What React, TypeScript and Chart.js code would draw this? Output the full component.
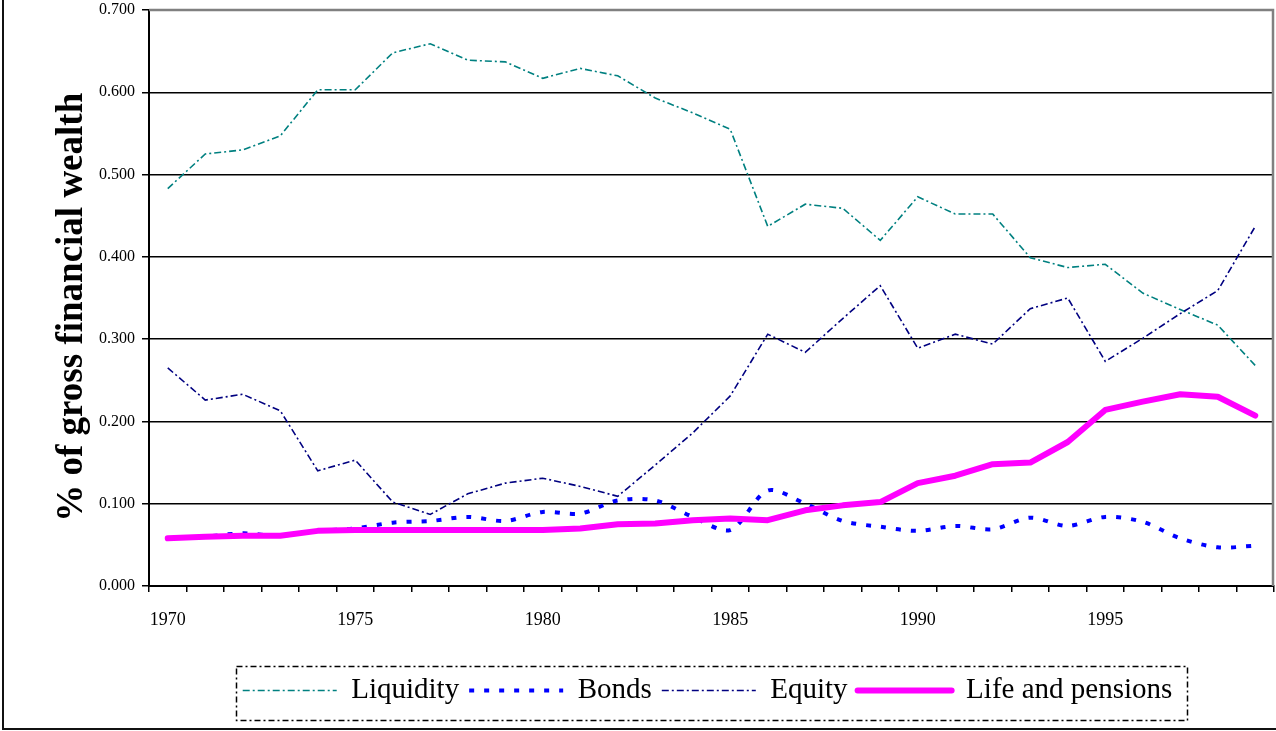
import React, { useEffect, useRef } from 'react';
import { Chart, registerables } from 'chart.js';

Chart.register(...registerables);

const years = ['1970','1971','1972','1973','1974','1975','1976','1977','1978','1979','1980','1981','1982','1983','1984','1985','1986','1987','1988','1989','1990','1991','1992','1993','1994','1995','1996','1997','1998','1999'];

const liquidity = [0.483,0.525,0.530,0.547,0.603,0.603,0.648,0.659,0.639,0.637,0.617,0.629,0.620,0.593,0.575,0.555,0.437,0.464,0.459,0.420,0.473,0.452,0.452,0.399,0.387,0.391,0.356,0.336,0.317,0.268];
const bonds = [0.058,0.060,0.064,0.061,0.067,0.070,0.077,0.079,0.084,0.079,0.090,0.088,0.104,0.104,0.084,0.068,0.116,0.100,0.079,0.072,0.067,0.073,0.069,0.083,0.073,0.084,0.078,0.058,0.047,0.049];
const equity = [0.265,0.226,0.233,0.213,0.140,0.153,0.102,0.087,0.112,0.125,0.131,0.121,0.109,0.147,0.186,0.231,0.306,0.284,0.325,0.365,0.289,0.306,0.294,0.337,0.350,0.273,0.301,0.331,0.359,0.437];
const lifePensions = [0.058,0.060,0.061,0.061,0.067,0.068,0.068,0.068,0.068,0.068,0.068,0.070,0.075,0.076,0.080,0.082,0.080,0.092,0.098,0.102,0.125,0.134,0.148,0.150,0.175,0.214,0.224,0.233,0.230,0.207];

const seriesNames = ['Liquidity', 'Bonds', 'Equity', 'Life and pensions'];
const yTitle = '% of gross financial wealth';

const SERIF = "'Liberation Serif', 'Times New Roman', serif";

export default function App() {
  const ref = useRef<HTMLCanvasElement>(null);

  useEffect(() => {
    document.body.style.margin = '0';
    const canvas = ref.current!;

    const framePlugin = {
      id: 'frame',
      afterLayout(chart: any) {
        const lg = chart.legend;
        if (lg) { lg.left -= 4; lg.right -= 4; }
      },
      afterDraw(chart: any) {
        const ctx = chart.ctx;
        const a = chart.chartArea;
        ctx.save();
        ctx.strokeStyle = '#808080';
        ctx.lineWidth = 2.5;
        ctx.beginPath();
        ctx.moveTo(a.left, a.top);
        ctx.lineTo(a.right - 1, a.top);
        ctx.lineTo(a.right - 1, a.bottom);
        ctx.stroke();
        ctx.strokeStyle = '#111';
        ctx.lineWidth = 2;
        ctx.beginPath();
        ctx.moveTo(3, 0);
        ctx.lineTo(3, 729);
        ctx.lineTo(1276, 729);
        ctx.stroke();
        const hb = chart.legend && chart.legend.legendHitBoxes;
        if (hb && hb.length) {
          const left = hb[0].left - 7;
          const last = hb[hb.length - 1];
          const right = last.left + last.width + 14;
          const cy = hb[0].top + hb[0].height / 2;
          ctx.strokeStyle = '#000';
          ctx.lineWidth = 1.5;
          ctx.setLineDash([6, 3, 2, 3]);
          ctx.strokeRect(Math.round(left) + 0.5, Math.round(cy - 25) + 0.5, Math.round(right - left), 54);
        }
        ctx.restore();
      },
    };

    const chart = new Chart(canvas, {
      type: 'line',
      data: {
        labels: years,
        datasets: [
          {
            label: seriesNames[0],
            data: liquidity,
            borderColor: '#008080',
            backgroundColor: '#008080',
            borderWidth: 1.6,
            borderDash: [7, 3, 2, 3],
            pointRadius: 0,
            tension: 0,
            order: 2,
          },
          {
            label: seriesNames[1],
            data: bonds,
            borderColor: '#0000FF',
            backgroundColor: '#0000FF',
            borderWidth: 4,
            borderDash: [5, 10],
            pointRadius: 0,
            tension: 0.3,
            order: 3,
          },
          {
            label: seriesNames[2],
            data: equity,
            borderColor: '#000080',
            backgroundColor: '#000080',
            borderWidth: 1.6,
            borderDash: [7, 3, 2, 3],
            pointRadius: 0,
            tension: 0,
            order: 1,
          },
          {
            label: seriesNames[3],
            data: lifePensions,
            borderColor: '#FF00FF',
            backgroundColor: '#FF00FF',
            borderWidth: 6,
            borderCapStyle: 'round',
            borderJoinStyle: 'round',
            pointRadius: 0,
            tension: 0,
            order: 0,
          },
        ],
      },
      options: {
        responsive: false,
        animation: false,
        devicePixelRatio: 1,
        events: [],
        layout: { padding: { top: 10, left: 0, right: 2, bottom: 16 } },
        plugins: {
          tooltip: { enabled: false },
          title: { display: false },
          legend: {
            position: 'bottom',
            fullSize: false,
            align: 'center',
            labels: {
              usePointStyle: true,
              pointStyle: 'line',
              pointStyleWidth: 94,
              color: '#000',
              padding: 10,
              font: { family: SERIF, size: 29 },
              sort: (a: any, b: any) => a.datasetIndex - b.datasetIndex,
              generateLabels: (ch: any) =>
                ch.data.datasets.map((ds: any, i: number) => ({
                  text: ds.label,
                  datasetIndex: i,
                  fillStyle: ds.borderColor,
                  strokeStyle: ds.borderColor,
                  lineWidth: ds.borderWidth,
                  lineDash: ds.borderDash || [],
                  lineDashOffset: 0,
                  lineCap: ds.borderCapStyle || 'butt',
                  lineJoin: 'miter',
                  pointStyle: 'line',
                  rotation: 0,
                  hidden: false,
                  fontColor: '#000',
                })),
            },
          },
        },
        scales: {
          x: {
            type: 'category',
            offset: true,
            afterFit: (s: any) => { s.height = 80; },
            grid: {
              display: true,
              drawOnChartArea: false,
              drawTicks: true,
              tickLength: 6,
              color: '#000',
              lineWidth: 1.5,
              offset: true,
            },
            border: { display: true, color: '#000', width: 2 },
            ticks: {
              autoSkip: false,
              maxRotation: 0,
              minRotation: 0,
              padding: 17,
              color: '#000',
              font: { family: SERIF, size: 18 },
              callback: (_v: any, i: number) => (Number(years[i]) % 5 === 0 ? years[i] : ''),
            },
          },
          y: {
            type: 'linear',
            min: 0,
            max: 0.7,
            afterFit: (s: any) => { s.width = 149; s.paddingTop = 0; s.paddingBottom = 0; },
            grid: {
              color: '#000',
              lineWidth: 1.5,
              drawTicks: true,
              tickLength: 7,
            },
            border: { display: true, color: '#000', width: 2 },
            ticks: {
              stepSize: 0.1,
              padding: 7,
              color: '#000',
              font: { family: SERIF, size: 16 },
              callback: (v: any) => Number(v).toFixed(3),
            },
            title: {
              display: true,
              text: yTitle + '  ',
              color: '#000',
              font: { family: SERIF, size: 37, weight: 'bold', lineHeight: 1.2 },
              padding: { top: 50, bottom: 0 },
            },
          },
        },
      },
      plugins: [framePlugin],
    } as any);

    return () => chart.destroy();
  }, []);

  return (
    <div style={{ width: 1276, height: 731 }}>
      <canvas ref={ref} width={1276} height={731} style={{ display: 'block' }} />
    </div>
  );
}
